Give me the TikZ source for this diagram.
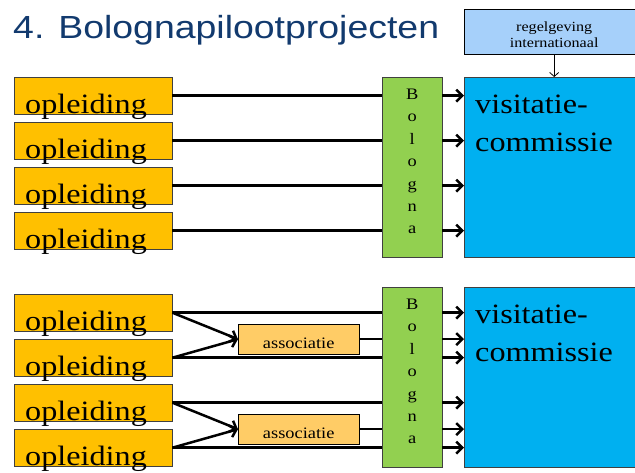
\documentclass[tikz,border=0pt]{standalone}
\usepackage{fontspec}
\usepackage{tikz}
\usetikzlibrary{arrows.meta}
\setmainfont[FakeStretch=1.15]{Liberation Serif}
\newfontfamily\titlefont[FakeStretch=1.17]{Liberation Sans}
\definecolor{titleblue}{RGB}{18,58,110}
\definecolor{boxline}{RGB}{64,64,64}
\definecolor{oplorange}{RGB}{255,192,0}
\definecolor{assorange}{RGB}{255,204,102}
\definecolor{bolgreen}{RGB}{146,208,80}
\definecolor{visblue}{RGB}{0,176,240}
\definecolor{regblue}{RGB}{166,208,250}

\begin{document}
\begin{tikzpicture}[x=1pt, y=-1pt]
		\tikzstyle{every node}=[inner sep=0pt]
		\tikzstyle{opl}=[draw=boxline, fill=oplorange, anchor=north west, inner xsep=11pt, text width=136pt, align=left, text height=36pt, text depth=1pt, font=\fontsize{28}{30}\selectfont]
		\tikzstyle{bol}=[draw=boxline, fill=bolgreen, anchor=north west, text width=60pt, align=center, text height=22pt, text depth=158pt, font=\fontsize{16}{22.45}\selectfont]
		\tikzstyle{visit}=[draw=boxline, fill=visblue, anchor=north west, inner xsep=11pt, text width=150pt, align=left, text height=36pt, text depth=144pt, font=\fontsize{28}{38}\selectfont]
		\tikzstyle{asso}=[draw=black, fill=assorange, anchor=north west, text width=121pt, align=center, text height=24pt, text depth=6pt, font=\fontsize{16}{18}\selectfont]
		\tikzstyle{regel}=[draw=black, fill=regblue, anchor=north west, text width=180pt, align=center, text height=22pt, text depth=23pt, font=\fontsize{14}{16}\selectfont]
		\tikzstyle{feed}=[line width=2.5pt]
		\tikzstyle{into}=[line width=2.5pt, -{Straight Barb[length=6pt, width=12pt]}]
		\useasboundingbox (0,0) rectangle (635,472);
		% title and regulation
		\node (Title)[anchor=base west, text=titleblue, font=\titlefont\fontsize{32}{34}\selectfont] at (13,38) {4. Bolognapilootprojecten};
		\node (Regel)[regel] at (464,9) {regelgeving\\internationaal};
		% upper half
		\node (Opl1)[opl] at (14,77) {opleiding};
		\node (Opl2)[opl] at (14,122) {opleiding};
		\node (Opl3)[opl] at (14,167) {opleiding};
		\node (Opl4)[opl] at (14,212) {opleiding};
		\node (Bol1)[bol] at (382,77) {B\\o\\l\\o\\g\\n\\a};
		\node (Visit1)[visit] at (464,77) {visitatie-\\commissie};
		\draw[line width=0.8pt, -{Straight Barb[length=4pt, width=9pt]}] (Regel.south) -- (Regel.south |- Visit1.north);
		\draw[feed] (Opl1.east) -- (Opl1.east -| Bol1.west);
		\draw[feed] (Opl2.east) -- (Opl2.east -| Bol1.west);
		\draw[feed] (Opl3.east) -- (Opl3.east -| Bol1.west);
		\draw[feed] (Opl4.east) -- (Opl4.east -| Bol1.west);
		\draw[into] (Opl1.east -| Bol1.east) -- (Opl1.east -| Visit1.west);
		\draw[into] (Opl2.east -| Bol1.east) -- (Opl2.east -| Visit1.west);
		\draw[into] (Opl3.east -| Bol1.east) -- (Opl3.east -| Visit1.west);
		\draw[into] (Opl4.east -| Bol1.east) -- (Opl4.east -| Visit1.west);
		% lower half
		\node (Opl5)[opl] at (14,294) {opleiding};
		\node (Opl6)[opl] at (14,339) {opleiding};
		\node (Opl7)[opl] at (14,384) {opleiding};
		\node (Opl8)[opl] at (14,429) {opleiding};
		\node (Asso1)[asso] at (238,324) {associatie};
		\node (Asso2)[asso] at (238,414) {associatie};
		\node (Bol2)[bol] at (382,287) {B\\o\\l\\o\\g\\n\\a};
		\node (Visit2)[visit] at (464,287) {visitatie-\\commissie};
		\draw[feed] (Opl5.east) -- (Opl5.east -| Bol2.west);
		\draw[into] (Opl5.east) -- (Asso1.west);
		\draw[into] (Opl6.east) -- (Asso1.west);
		\draw[feed] (Opl6.east) -- (Opl6.east -| Bol2.west);
		\draw[feed] (Asso1.east) -- (Asso1.east -| Bol2.west);
		\draw[feed] (Opl7.east) -- (Opl7.east -| Bol2.west);
		\draw[into] (Opl7.east) -- (Asso2.west);
		\draw[into] (Opl8.east) -- (Asso2.west);
		\draw[feed] (Opl8.east) -- (Opl8.east -| Bol2.west);
		\draw[feed] (Asso2.east) -- (Asso2.east -| Bol2.west);
		\draw[into] (Opl5.east -| Bol2.east) -- (Opl5.east -| Visit2.west);
		\draw[into] (Asso1.east -| Bol2.east) -- (Asso1.east -| Visit2.west);
		\draw[into] (Opl6.east -| Bol2.east) -- (Opl6.east -| Visit2.west);
		\draw[into] (Opl7.east -| Bol2.east) -- (Opl7.east -| Visit2.west);
		\draw[into] (Asso2.east -| Bol2.east) -- (Asso2.east -| Visit2.west);
		\draw[into] (Opl8.east -| Bol2.east) -- (Opl8.east -| Visit2.west);
\end{tikzpicture}
\end{document}
